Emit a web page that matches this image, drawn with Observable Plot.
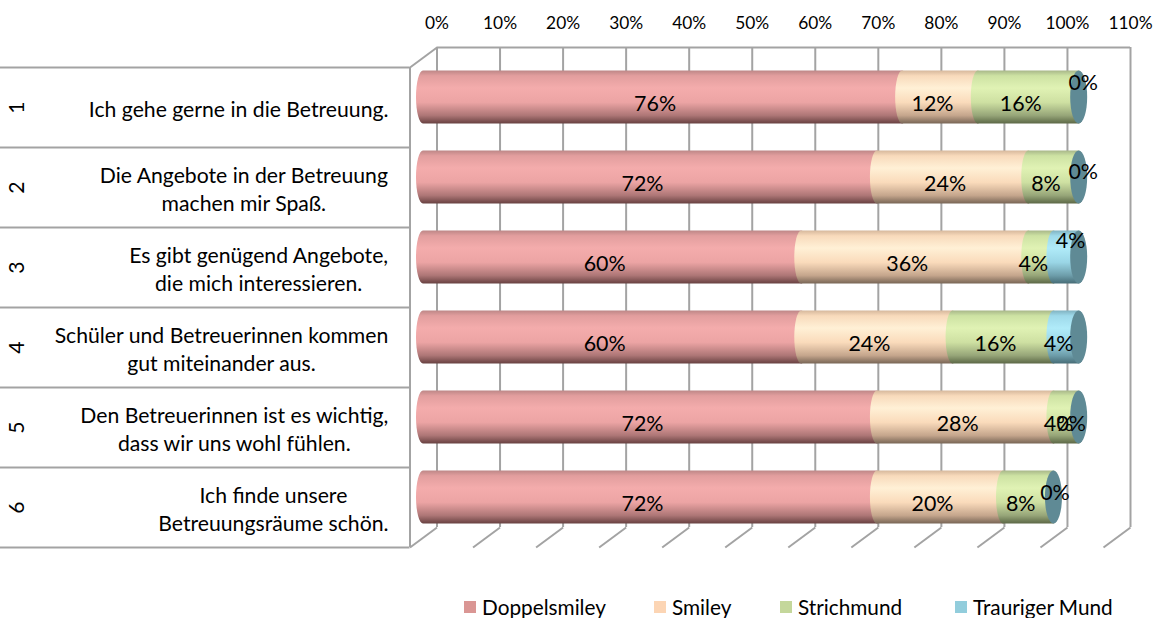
<!DOCTYPE html>
<html><head><meta charset="utf-8">
<script src="https://cdn.jsdelivr.net/npm/d3@7"></script>
<script src="https://cdn.jsdelivr.net/npm/@observablehq/plot@0.6"></script>
<style>
body{margin:0;background:#fff;font-family:Lato,sans-serif;}
#wrap{position:relative;width:1158px;height:618px;overflow:hidden;}
#legend{position:absolute;left:0;top:594px;width:1158px;height:26px;}
.item{position:absolute;top:0;height:26px;display:flex;align-items:center;color:#000;white-space:nowrap;}
.sw{width:12px;height:12px;margin-right:6px;flex:none;}
</style></head><body><div id="wrap"><div id="chart"></div><div id="legend"></div></div>
<script>
// ---------- data ----------
const rowNumbers = ["1", "2", "3", "4", "5", "6"];
const statements = [
  "Ich gehe gerne in die Betreuung.",
  "Die Angebote in der Betreuung\nmachen mir Spaß.",
  "Es gibt genügend Angebote,\ndie mich interessieren.",
  "Schüler und Betreuerinnen kommen\ngut miteinander aus.",
  "Den Betreuerinnen ist es wichtig,\ndass wir uns wohl fühlen.",
  "Ich finde unsere\nBetreuungsräume schön."
];
const seriesNames = ["Doppelsmiley", "Smiley", "Strichmund", "Trauriger Mund"];
const doppelsmiley = [76, 72, 60, 60, 72, 72];
const smiley       = [12, 24, 36, 24, 28, 20];
const strichmund   = [16,  8,  4, 16,  4,  8];
const trauriger    = [ 0,  0,  4,  4,  0,  0];
const xTicks = [0, 10, 20, 30, 40, 50, 60, 70, 80, 90, 100, 110];

// ---------- styling ----------
const legendColors = ["#da9694", "#fcd5b4", "#c4d79b", "#92cddc"];
const gradients = [
  [[0,"#bd8787"],[0.1,"#e29e9e"],[0.33,"#f4acac"],[0.6,"#eca4a4"],[0.85,"#ad7676"],[1,"#684141"]],
  [[0,"#d6b89c"],[0.1,"#f8dabb"],[0.33,"#fff0d6"],[0.6,"#fadbbb"],[0.85,"#c4a58c"],[1,"#786555"]],
  [[0,"#a8b789"],[0.1,"#cde2a3"],[0.33,"#e0f2b4"],[0.6,"#cee0a2"],[0.85,"#96a578"],[1,"#5c6846"]],
  [[0,"#80b2c0"],[0.1,"#9ed9ea"],[0.33,"#b0ebf9"],[0.6,"#9ad6e6"],[0.85,"#6d9daa"],[1,"#466c76"]]
];
const capColor = "#5f8a95";
const gridColor = "#a3a3a3";
const FONT = "Lato";

const W = 1158, H = 588;
const marginLeft = 423, marginTop = 57, plotRight = 1116.5, plotBottom = 537;
const pxPerPct = (plotRight - marginLeft) / 110;
const pxPerRow = (plotBottom - marginTop) / 6;
const DX = 13.5, DY = 10;                 // half depth of the 3D box (px)
const ox = DX / pxPerPct, oy = DY / pxPerRow;
const px2x = p => (p - marginLeft) / pxPerPct;

const ctx = document.createElement("canvas").getContext("2d");
function fit(str, width) { ctx.font = `100px ${FONT}`; return 100 * width / ctx.measureText(str).width; }
function measure(str, size) { ctx.font = `${size}px ${FONT}`; return ctx.measureText(str).width; }
const labelSize = fit("Ich gehe gerne in die Betreuung.", 300);
const pctSize = fit("76%", 42);
const tickSize = fit("30%", 34);
const legendSize = fit("Doppelsmiley", 124);

// ---------- derived tables ----------
const seriesValues = [doppelsmiley, smiley, strichmund, trauriger];
const segments = [];
const ends = [];
rowNumbers.forEach((r, i) => {
  let cum = 0;
  seriesValues.forEach((vals, s) => {
    const v = vals[i];
    segments.push({row: i, s, x1: cum, x2: cum + v, v});
    cum += v;
  });
  ends.push({row: i, end: cum});
});
const lift = {0: [12, -21], 1: [12, -12], 2: [12, -23], 5: [9, -11]};
const labels = segments.map(d => {
  let ddx = -8, ddy = 7;
  if (d.s === 3 && lift[d.row]) { ddx += lift[d.row][0]; ddy += lift[d.row][1]; }
  return {x: (d.x1 + d.x2) / 2 + ddx / pxPerPct, y: d.row + 0.5 + ddy / pxPerRow, text: d.v + "%"};
});
const rowLabels = statements.map((t, i) => {
  const w = d3.max(t.split("\n"), l => measure(l, labelSize));
  return {i, text: t, cx: 388 - w / 2};
});

const rxPx = 7, capPx = 8.5, barH = 53;
const pad = (1 - barH / pxPerRow) / 2;
const rxPct = rxPx / pxPerPct, capPct = capPx / pxPerPct;

const barMarks = seriesValues.map((_, s) =>
  Plot.rect(segments.filter(d => d.s === s && d.v > 0), {
    x1: d => d.x1 - rxPct, x2: d => d.x2 + rxPct,
    y1: d => d.row + pad, y2: d => d.row + 1 - pad,
    fill: `url(#grad${s})`, rx: rxPx, ry: barH / 2
  })
);

const chart = Plot.plot({
  width: W, height: H,
  marginLeft, marginRight: W - plotRight, marginTop, marginBottom: H - plotBottom,
  x: {domain: [0, 110], axis: null},
  y: {domain: [0, 6], reverse: true, axis: null},
  style: {fontFamily: FONT, color: "#000", background: "transparent", overflow: "visible"},
  marks: [
    // back wall
    Plot.ruleX(xTicks, {x: d => d, y1: () => 0, y2: () => 6, dx: DX, dy: -DY, stroke: gridColor, strokeWidth: 2}),
    Plot.ruleY([0], {y: d => d, x1: () => 0, x2: () => 110, dx: DX, dy: -DY, stroke: gridColor, strokeWidth: 2}),
    // floor
    Plot.link(xTicks, {x1: d => d + ox, y1: () => 6 - oy, x2: d => d - ox, y2: () => 6 + oy, stroke: gridColor, strokeWidth: 2}),
    // left wall
    Plot.ruleX([0], {x: d => d, y1: () => 0, y2: () => 6, dx: -DX, dy: DY, stroke: gridColor, strokeWidth: 2}),
    Plot.link([0], {x1: d => d - ox, y1: () => oy, x2: d => d + ox, y2: () => -oy, stroke: gridColor, strokeWidth: 2}),
    // category table lines
    Plot.ruleY(d3.range(7), {y: d => d, x1: () => px2x(DX), x2: () => 0, dx: -DX, dy: DY, stroke: gridColor, strokeWidth: 2}),
    // bars
    ...barMarks,
    Plot.rect(ends, {
      x1: d => d.end - capPct, x2: d => d.end + capPct,
      y1: d => d.row + pad, y2: d => d.row + 1 - pad,
      fill: capColor, rx: capPx, ry: barH / 2
    }),
    // data labels
    Plot.text(labels, {x: "x", y: "y", text: "text", fontSize: pctSize, fill: "#000", textAnchor: "middle", lineAnchor: "middle"}),
    // category labels
    Plot.text(rowLabels, {x: d => px2x(d.cx), y: d => d.i + 0.5, dy: DY + 1, text: "text", textAnchor: "middle", lineAnchor: "middle",
      fontSize: labelSize, lineHeight: 28 / labelSize, fill: "#000"}),
    Plot.text(rowNumbers, {x: () => px2x(17), y: (d, i) => i + 0.5, dy: DY, text: d => d, rotate: -90,
      textAnchor: "middle", lineAnchor: "middle", fontSize: labelSize, fill: "#000"}),
    // top axis labels
    Plot.text(xTicks, {x: d => d, y: () => 0, dx: DX, dy: -34, text: d => d + "%", textAnchor: "middle", lineAnchor: "middle",
      fontSize: tickSize, fill: "#000"})
  ]
});

const defs = d3.select(chart).insert("defs", ":first-child");
gradients.forEach((stops, s) => {
  const g = defs.append("linearGradient").attr("id", `grad${s}`).attr("x1", 0).attr("y1", 0).attr("x2", 0).attr("y2", 1);
  stops.forEach(([o, c]) => g.append("stop").attr("offset", o).attr("stop-color", c));
});
document.getElementById("chart").appendChild(chart);

// legend
const legendX = [464, 654, 780, 955];
const legend = document.getElementById("legend");
seriesNames.forEach((name, i) => {
  const it = document.createElement("div");
  it.className = "item";
  it.style.left = legendX[i] + "px";
  it.style.fontSize = legendSize + "px";
  it.innerHTML = `<span class="sw" style="background:${legendColors[i]}"></span><span>${name}</span>`;
  legend.appendChild(it);
});
</script></body></html>
